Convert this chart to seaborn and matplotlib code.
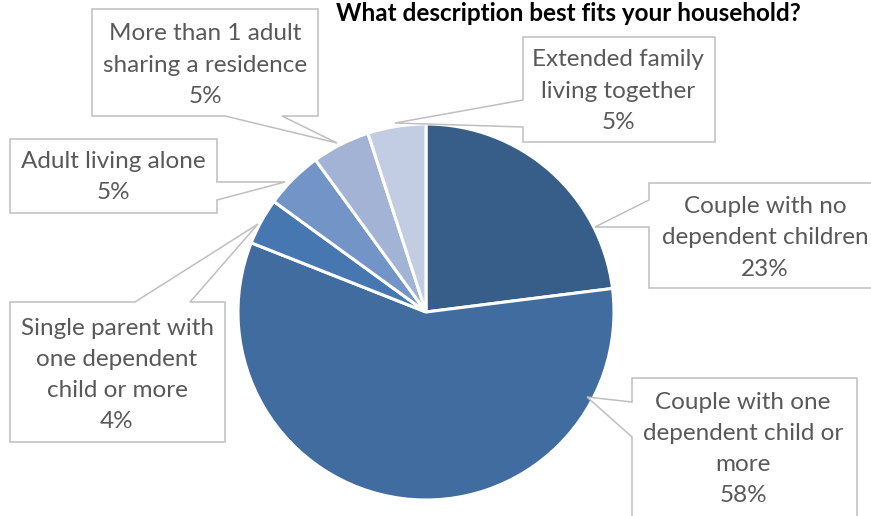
import matplotlib
matplotlib.use("Agg")
import matplotlib.pyplot as plt
from matplotlib.patches import Polygon
import seaborn as sns

sns.set_theme(style="white")
plt.rcParams["font.family"] = ["Lato", "DejaVu Sans"]

# Household composition survey results
categories = [
    "Couple with no\ndependent children",
    "Couple with one\ndependent child or\nmore",
    "Single parent with\none dependent\nchild or more",
    "Adult living alone",
    "More than 1 adult\nsharing a residence",
    "Extended family\nliving together",
]
shares = [23, 58, 4, 5, 5, 5]
colors = ["#375D89", "#416C9F", "#4677B1", "#7294C6", "#A2B3D5", "#C2CDE3"]
title = "What description best fits your household?"

W, H = 871, 516
fig = plt.figure(figsize=(W / 100, H / 100), dpi=100)
ax = fig.add_axes([0, 0, 1, 1])


def py(y):
    # convert a top-down pixel row into the axes' upward y
    return H - y


ax.pie(
    shares,
    colors=colors,
    startangle=90,
    counterclock=False,
    center=(426, py(312)),
    radius=188,
    wedgeprops=dict(edgecolor="white", linewidth=2.2),
    frame=True,
)
ax.set_xlim(0, W)
ax.set_ylim(0, H)
ax.set_aspect("equal")
ax.axis("off")

# callout boxes: (x0, y0, x1, y1, side of tail, base a, base b, tip, text centre)
callouts = [
    (649, 183, 890, 288, "left", 200, 227, (595, 227), (765, 238)),
    (632, 378, 857, 540, "left", 402, 437, (587, 397), (743, 449)),
    (10, 302, 225, 442, "top", 135, 190, (258, 224), (117, 375)),
    (10, 139, 217, 213, "right", 182, 200, (285, 182), (113, 177)),
    (92, 9, 318, 116, "bottom", 225, 282, (337, 143), (205, 65)),
    (523, 37, 715, 142, "left", 100, 127, (395, 123), (618, 91)),
]


def callout_shape(x0, y0, x1, y1, side, a, b, tip):
    pts = [(x0, y0)]
    if side == "top":
        pts += [(a, y0), tip, (b, y0)]
    pts += [(x1, y0)]
    if side == "right":
        pts += [(x1, a), tip, (x1, b)]
    pts += [(x1, y1)]
    if side == "bottom":
        pts += [(b, y1), tip, (a, y1)]
    pts += [(x0, y1)]
    if side == "left":
        pts += [(x0, b), tip, (x0, a)]
    return [(x, py(y)) for x, y in pts]


for (x0, y0, x1, y1, side, a, b, tip, ctr), label, val in zip(callouts, categories, shares):
    poly = Polygon(callout_shape(x0, y0, x1, y1, side, a, b, tip), closed=True,
                   facecolor="white", edgecolor="#BFBFBF", linewidth=1.1,
                   zorder=5, clip_on=False)
    ax.add_patch(poly)
    ax.text(ctr[0], py(ctr[1]), f"{label}\n{val}%", ha="center", va="center",
            fontsize=17.5, color="#595959", linespacing=1.6, zorder=6)

ax.text(568, py(2), title, ha="center", va="top", fontsize=17.5,
        fontweight="bold", color="black")

fig.savefig("out.png", dpi=100)
